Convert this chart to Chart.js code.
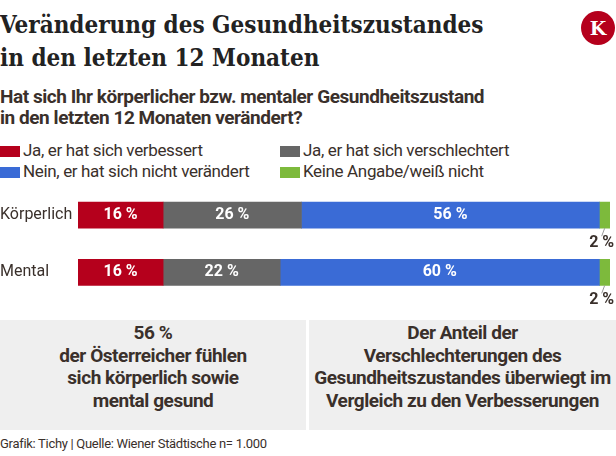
<!DOCTYPE html>
<html lang="de">
<head>
<meta charset="UTF-8">
<title>Veränderung des Gesundheitszustandes</title>
<style>
  body { margin: 0; width: 616px; height: 456px; overflow: hidden; background: #fff; font-family: Roboto, sans-serif; color: #3a302b; position: relative; }
  .title { position: absolute; left: 0; top: 8px; margin: 0; font-family: "DejaVu Serif Condensed", "DejaVu Serif", serif; font-weight: bold; font-size: 24px; line-height: 33px; color: #222; }
  .logo { position: absolute; left: 581px; top: 11px; width: 34px; height: 34px; border-radius: 50%; background: #b5001c; color: #fff; font-family: "DejaVu Serif", serif; font-weight: bold; font-size: 19px; line-height: 34px; text-align: center; }
  .sub { position: absolute; left: 0; top: 86px; margin: 0; font-weight: bold; font-size: 19px; line-height: 21px; letter-spacing: -0.45px; color: #3a302b; }
  .legend { position: absolute; left: 0; top: 140px; width: 616px; }
  .legend .item { position: absolute; font-size: 17px; line-height: 20px; letter-spacing: -0.35px; white-space: nowrap; }
  .legend .sw { display: inline-block; width: 20px; height: 11px; margin-right: 3px; vertical-align: -1px; }
  #wrap { position: absolute; left: 0; top: 177px; width: 616px; height: 140px; }
  .box { position: absolute; top: 320px; height: 110px; box-sizing: border-box; padding-bottom: 16px; background: #efefef; font-weight: bold; font-size: 19px; line-height: 22.5px; text-align: center; letter-spacing: -0.45px; color: #3a302b; display: flex; align-items: center; justify-content: center; }
  .foot { position: absolute; left: 0; top: 436px; font-size: 13px; letter-spacing: -0.3px; color: #3a302b; }
</style>
</head>
<body>
<h1 class="title">Veränderung des Gesundheitszustandes<br>in den letzten 12 Monaten</h1>
<div class="logo">K</div>
<p class="sub">Hat sich Ihr körperlicher bzw. mentaler Gesundheitszustand<br>in den letzten 12 Monaten verändert?</p>
<div class="legend" id="legend"></div>
<div id="wrap"><canvas id="chart"></canvas></div>
<div class="box" style="left:0;width:306px;"><div>56 %<br>der Österreicher fühlen<br>sich körperlich sowie<br>mental gesund</div></div>
<div class="box" style="left:309px;width:307px;"><div>Der Anteil der<br>Verschlechterungen des<br>Gesundheitszustandes überwiegt im<br>Vergleich zu den Verbesserungen</div></div>
<div class="foot">Grafik: Tichy | Quelle: Wiener Städtische n= 1.000</div>

<script src="https://cdn.jsdelivr.net/npm/chart.js"></script>
<script>
// Daten
const categories = ["Körperlich", "Mental"];
const seriesNames = ["Ja, er hat sich verbessert", "Ja, er hat sich verschlechtert", "Nein, er hat sich nicht verändert", "Keine Angabe/weiß nicht"];
const verbessert = [16, 16];
const verschlechtert = [26, 22];
const unveraendert = [56, 60];
const keineAngabe = [2, 2];
const colors = ["#b5001c", "#666666", "#3a6bd6", "#7dba3c"];

// Legende (2 Spalten)
const legendPos = [[0, 0], [280, 0], [0, 21], [280, 21]];
const legend = document.getElementById("legend");
seriesNames.forEach((name, i) => {
  const el = document.createElement("div");
  el.className = "item";
  el.style.left = legendPos[i][0] + "px";
  el.style.top = legendPos[i][1] + "px";
  el.innerHTML = `<span class="sw" style="background:${colors[i]}"></span>${name}`;
  legend.appendChild(el);
});

// Beschriftungen in den Balken
const valueLabels = {
  id: "valueLabels",
  afterDatasetsDraw(chart) {
    const ctx = chart.ctx;
    ctx.save();
    chart.data.datasets.forEach((ds, di) => {
      chart.getDatasetMeta(di).data.forEach((bar, i) => {
        const v = ds.data[i];
        const txt = v + " %";
        if (v >= 5) {
          ctx.font = "bold 16px Roboto";
          ctx.fillStyle = "#fff";
          ctx.textAlign = "center";
          ctx.textBaseline = "middle";
          ctx.fillText(txt, (bar.base + bar.x) / 2, bar.y);
        } else {
          // kleiner Wert: Beschriftung unter dem Balken mit Linie
          const cx = (bar.base + bar.x) / 2;
          const bottom = bar.y + bar.height / 2;
          ctx.strokeStyle = "#999";
          ctx.lineWidth = 1;
          ctx.beginPath();
          ctx.moveTo(cx, bottom);
          ctx.lineTo(cx - 3, bottom + 8);
          ctx.stroke();
          ctx.font = "bold 16px Roboto";
          ctx.fillStyle = "#3a302b";
          ctx.textAlign = "center";
          ctx.textBaseline = "top";
          ctx.fillText(txt, cx - 3, bottom + 7);
        }
      });
    });
    ctx.restore();
  }
};

const allSeries = [verbessert, verschlechtert, unveraendert, keineAngabe];

new Chart(document.getElementById("chart"), {
  type: "bar",
  data: {
    labels: categories,
    datasets: allSeries.map((d, i) => ({
      label: seriesNames[i],
      data: d,
      backgroundColor: colors[i],
      borderWidth: 0,
      barThickness: 26
    }))
  },
  options: {
    indexAxis: "y",
    responsive: true,
    maintainAspectRatio: false,
    animation: false,
    layout: { padding: { top: 0, right: 6, bottom: 16, left: 0 } },
    plugins: { legend: { display: false }, tooltip: { enabled: false } },
    scales: {
      x: { stacked: true, min: 0, max: 100, display: false },
      y: {
        stacked: true,
        grid: { display: false },
        border: { display: false },
        ticks: { crossAlign: "far", padding: 0, color: "#3a302b", font: { family: "Roboto", size: 16 } },
        afterFit(scale) { scale.width = 78; }
      }
    }
  },
  plugins: [valueLabels]
});
</script>
</body>
</html>
